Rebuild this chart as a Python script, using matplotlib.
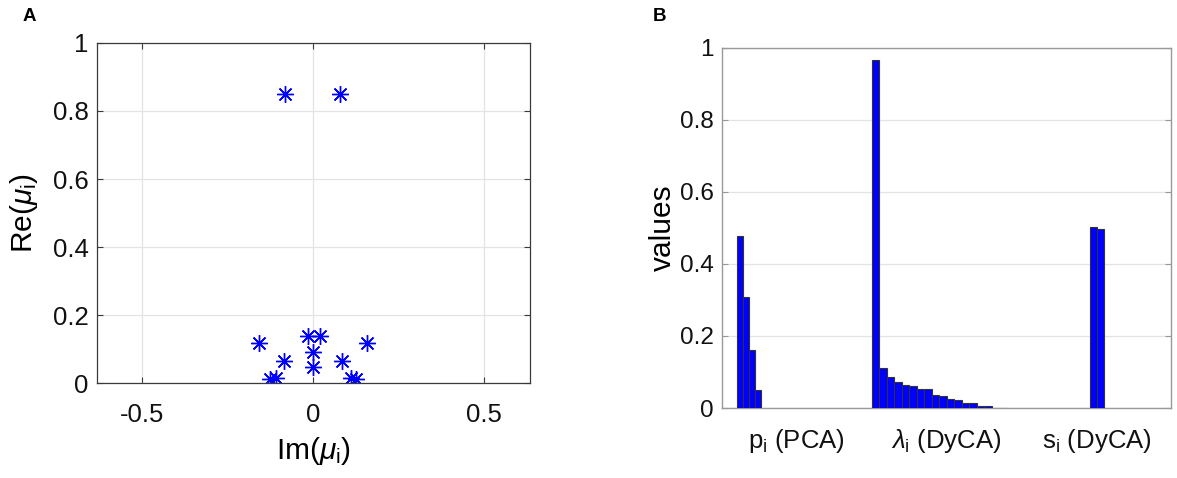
import matplotlib
matplotlib.use("Agg")
import matplotlib.pyplot as plt
import numpy as np

plt.rcParams['font.family'] = ['Liberation Sans', 'DejaVu Sans']
plt.rcParams['mathtext.fontset'] = 'custom'
plt.rcParams['mathtext.rm'] = 'Liberation Sans'
plt.rcParams['mathtext.it'] = 'Liberation Sans:italic'
plt.rcParams['mathtext.bf'] = 'Liberation Sans:bold'

# ---- Panel A data: eigenvalues mu_i (imaginary part on x, real part on y)
im_mu = [-0.081, 0.080, -0.157, 0.157, -0.086, 0.086, -0.127, -0.108,
         0.111, 0.127, -0.016, 0.019, 0.0, 0.0]
re_mu = [0.849, 0.849, 0.120, 0.120, 0.066, 0.066, 0.014, 0.017,
         0.017, 0.012, 0.139, 0.139, 0.092, 0.048]

# ---- Panel B data
p_pca = [0.476, 0.309, 0.161, 0.050]
lambda_dyca = [0.965, 0.111, 0.086, 0.072, 0.065, 0.062, 0.053, 0.052,
               0.036, 0.0325, 0.025, 0.022, 0.015, 0.013, 0.0067, 0.0056,
               0.001, 0.001]
s_dyca = [0.502, 0.497]
group_labels = [r'p$_{\rm i}$ (PCA)', r'$\lambda_{\rm i}$ (DyCA)', r's$_{\rm i}$ (DyCA)']

BLUE = '#0000ff'
GRID = '#e3e3e3'
TICK_FS = 18.5
TICK_FS_B = 17.5
LABEL_FS = 21.5

fig = plt.figure(figsize=(11.77, 4.78), dpi=100)

# ---------------- Panel A ----------------
axA = fig.add_axes([0.0822, 0.1977, 0.3681, 0.7130])
axA.plot(im_mu, re_mu, linestyle='none', marker=(8, 2, 0), markersize=12,
         markeredgewidth=1.0, color=BLUE, markeredgecolor=BLUE)
axA.set_xlim(-0.634, 0.636)
axA.set_ylim(0, 1)
axA.set_xticks([-0.5, 0, 0.5])
axA.set_xticklabels(['-0.5', '0', '0.5'])
axA.set_yticks([0, 0.2, 0.4, 0.6, 0.8, 1])
axA.set_yticklabels(['0', '0.2', '0.4', '0.6', '0.8', '1'])
axA.grid(True, color=GRID, linewidth=0.9)
axA.set_axisbelow(True)
for sp in axA.spines.values():
    sp.set_color('#3a3a3a')
    sp.set_linewidth(0.9)
axA.tick_params(axis='both', direction='in', length=4, width=0.8,
                colors='#3a3a3a', labelcolor='#111111', labelsize=TICK_FS,
                top=True, right=True)
axA.tick_params(axis='x', pad=14)
axA.tick_params(axis='y', pad=6)
axA.set_xlabel(r'Im($\mu_{\rm i}$)', fontsize=LABEL_FS)
axA.set_ylabel(r'Re($\mu_{\rm i}$)', fontsize=LABEL_FS)
axA.xaxis.set_label_coords(0.5, -0.152)
axA.yaxis.set_label_coords(-0.13, 0.5)
fig.text(0.0195, 0.965, 'A', fontsize=13.5, fontweight='bold', va='center', ha='left')

# ---------------- Panel B ----------------
axB = fig.add_axes([0.6134, 0.1464, 0.3819, 0.7542])
groups = [p_pca, lambda_dyca, s_dyca]
group_start = [0.620, 1.525, 2.980]
group_step = [0.0407, 0.050, 0.0467]
for vals, x0, step in zip(groups, group_start, group_step):
    xs = x0 + step * np.arange(len(vals))
    axB.bar(xs, vals, width=step, color=BLUE, edgecolor='#333333',
            linewidth=0.8, zorder=3)
axB.set_xlim(0.5, 3.5)
axB.set_ylim(0, 1)
axB.set_xticks([1, 2, 3])
axB.set_xticklabels(group_labels)
axB.set_yticks([0, 0.2, 0.4, 0.6, 0.8, 1])
axB.set_yticklabels(['0', '0.2', '0.4', '0.6', '0.8', '1'])
axB.yaxis.grid(True, color=GRID, linewidth=0.9)
axB.xaxis.grid(False)
axB.set_axisbelow(True)
for sp in axB.spines.values():
    sp.set_color('#999999')
    sp.set_linewidth(1.0)
axB.tick_params(axis='y', direction='in', length=4, width=0.8,
                colors='#999999', labelcolor='#111111', labelsize=TICK_FS_B,
                right=True, pad=6)
axB.tick_params(axis='x', length=0, labelsize=TICK_FS, labelcolor='#111111', pad=14)
axB.set_ylabel('values', fontsize=LABEL_FS)
axB.yaxis.set_label_coords(-0.10, 0.5)
fig.text(0.555, 0.965, 'B', fontsize=13.5, fontweight='bold', va='center', ha='left')

fig.savefig('out.png', dpi=100)
